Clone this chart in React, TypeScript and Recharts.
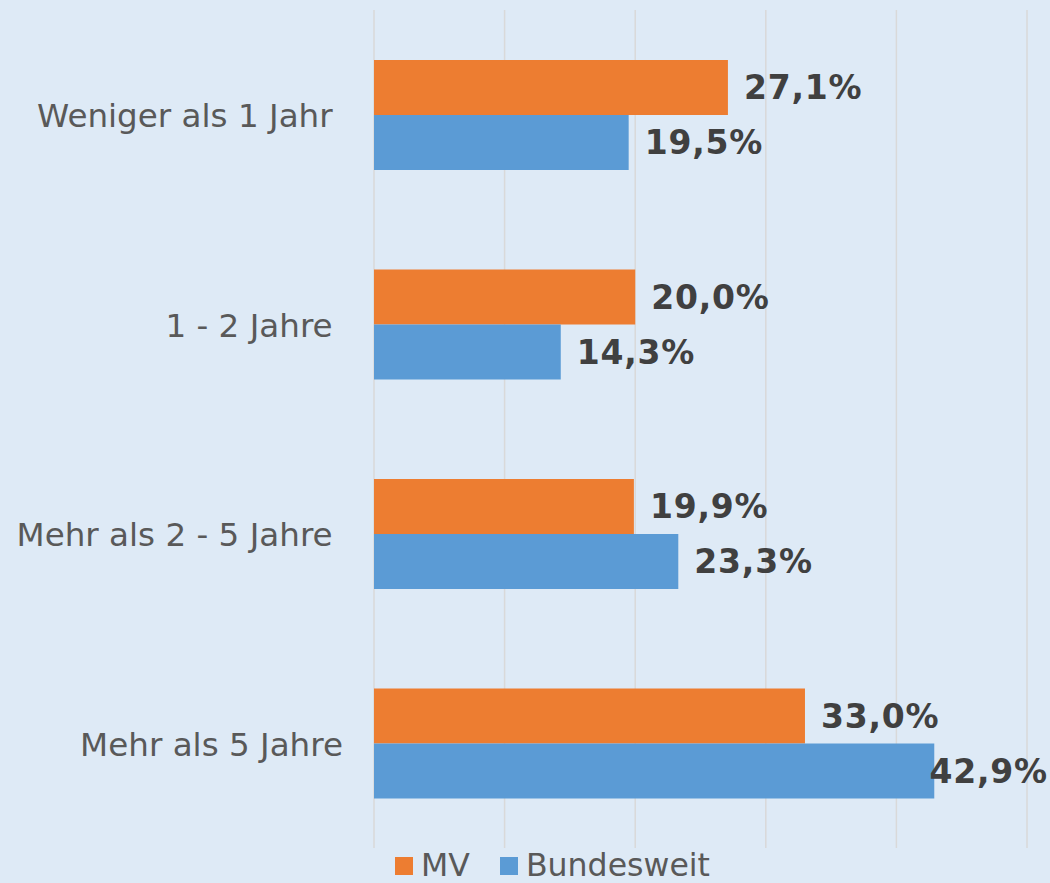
import React from "react";
import {
  BarChart, Bar, XAxis, YAxis, CartesianGrid, Legend, LabelList,
} from "recharts";

// Kategorien (mit nachgestelltem Leerzeichen wie im Original)
const categories = [
  "Weniger als 1 Jahr ",
  "1 - 2 Jahre ",
  "Mehr als 2 - 5 Jahre ",
  "Mehr als 5 Jahre",
];
const mvValues = [0.271, 0.2, 0.199, 0.33];
const bundValues = [0.195, 0.143, 0.233, 0.429];
const xTicks = [0, 0.1, 0.2, 0.3, 0.4, 0.5];

const ORANGE = "#ED7D31";
const BLUE = "#5B9BD5";
const BG = "#DEEAF6";
const FONT = "'DejaVu Sans', Verdana, sans-serif";

const W = 1050;
const H = 883;

const data = categories.map((name, i) => ({
  name,
  mv: mvValues[i],
  bund: bundValues[i],
}));

const fmt = (v: number) => (v * 100).toFixed(1).replace(".", ",") + "%";

const YTick = ({ x, y, payload }: any) => (
  <text
    x={x}
    y={y}
    dy="0.38em"
    textAnchor="end"
    fill="#595959"
    fontSize={32.6}
    fontFamily={FONT}
    style={{ whiteSpace: "pre" }}
  >
    {payload.value}
  </text>
);

const LABEL_W = 118;
const BarLabel = ({ x, y, width, height, value }: any) => {
  let lx = x + width + 16;
  let anchor: "start" | "end" = "start";
  if (lx + LABEL_W > W - 2) {
    lx = W - 2;
    anchor = "end";
  }
  return (
    <text
      x={lx}
      y={y + height / 2}
      dy="0.36em"
      textAnchor={anchor}
      fill="#404040"
      fontSize={33}
      fontWeight="bold"
      letterSpacing={0.8}
      fontFamily={FONT}
    >
      {fmt(value)}
    </text>
  );
};

const LegendBox = () => (
  <div
    style={{
      display: "flex",
      alignItems: "center",
      height: 35,
      paddingLeft: 395,
      boxSizing: "border-box",
      fontFamily: FONT,
      fontSize: 31.6,
      color: "#595959",
      lineHeight: 1,
    }}
  >
    <span style={{ width: 18, height: 18, background: ORANGE, marginRight: 8 }} />
    <span style={{ marginRight: 30 }}>MV</span>
    <span style={{ width: 18, height: 18, background: BLUE, marginRight: 8 }} />
    <span>Bundesweit</span>
  </div>
);

export default function App() {
  return (
    <div style={{ position: "absolute", left: 0, top: 0, width: W, height: H, background: BG }}>
      <BarChart
        width={W}
        height={H}
        data={data}
        layout="vertical"
        margin={{ top: 10, right: 23, left: 0, bottom: 0 }}
        barGap={0}
      >
        <CartesianGrid horizontal={false} stroke="#d9d9d9" strokeWidth={1.5} />
        <XAxis type="number" domain={[0, 0.5]} ticks={xTicks} hide />
        <YAxis
          type="category"
          dataKey="name"
          width={374}
          axisLine={false}
          tickLine={false}
          tickSize={0}
          tickMargin={31}
          tick={<YTick />}
        />
        <Legend
          verticalAlign="bottom"
          content={<LegendBox />}
          wrapperStyle={{ left: 0, width: W, bottom: 0, height: 35 }}
        />
        <Bar dataKey="mv" name="MV" fill={ORANGE} barSize={55} isAnimationActive={false}>
          <LabelList dataKey="mv" content={<BarLabel />} />
        </Bar>
        <Bar dataKey="bund" name="Bundesweit" fill={BLUE} barSize={55} isAnimationActive={false}>
          <LabelList dataKey="bund" content={<BarLabel />} />
        </Bar>
      </BarChart>
    </div>
  );
}
